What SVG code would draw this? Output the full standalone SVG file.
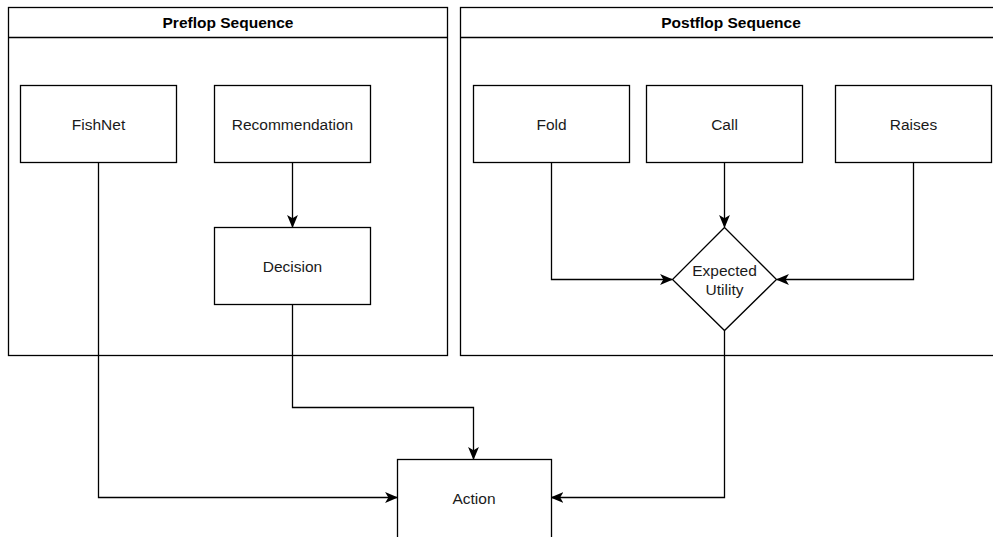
<svg xmlns="http://www.w3.org/2000/svg" width="993" height="537" viewBox="0 0 993 537">
  <style>
    .box { fill: #ffffff; stroke: #000000; stroke-width: 1.3; }
    .lbl { font-family: "Liberation Sans", Arial, sans-serif; font-size: 15.5px; fill: #1a1a1a; text-anchor: middle; dominant-baseline: central; }
    .hdr { font-family: "Liberation Sans", Arial, sans-serif; font-size: 15.5px; font-weight: bold; fill: #000000; text-anchor: middle; dominant-baseline: central; }
    .edge { fill: none; stroke: #000000; stroke-width: 1.3; marker-end: url(#arrow); }
  </style>
  <defs>
    <marker id="arrow" viewBox="0 0 12 10" refX="11" refY="5" markerWidth="13" markerHeight="11" markerUnits="userSpaceOnUse" orient="auto">
      <path d="M0,0 L12,5 L0,10 L3,5 Z" fill="#000000"/>
    </marker>
  </defs>
  <rect width="993" height="537" fill="#ffffff"/>

  <!-- swimlane containers -->
  <g id="preflop">
    <rect class="box" x="8.5" y="7.5" width="439" height="348"/>
    <line x1="8.5" y1="37.5" x2="447.5" y2="37.5" stroke="#000" stroke-width="1.3"/>
    <text class="hdr" x="228" y="22.5">Preflop Sequence</text>
  </g>
  <g id="postflop">
    <rect class="box" x="460.5" y="7.5" width="560" height="348"/>
    <line x1="460.5" y1="37.5" x2="1020" y2="37.5" stroke="#000" stroke-width="1.3"/>
    <text class="hdr" x="731" y="22.5">Postflop Sequence</text>
  </g>

  <!-- connectors -->
  <g id="connectors">
    <path class="edge" d="M98.5,162.5 V497.5 H397"/>
    <path class="edge" d="M292.5,162.5 V227"/>
    <path class="edge" d="M292.5,304.5 V407.5 H473.5 V459"/>
    <path class="edge" d="M551.5,162.5 V279.5 H672"/>
    <path class="edge" d="M724.5,162.5 V227"/>
    <path class="edge" d="M913.5,162.5 V279.5 H777"/>
    <path class="edge" d="M724.5,330.5 V497.5 H551.5"/>
  </g>

  <!-- nodes -->
  <g id="fishnet">
    <rect class="box" x="20.5" y="85.5" width="156" height="77"/>
    <text class="lbl" x="98.5" y="124">FishNet</text>
  </g>
  <g id="recommendation">
    <rect class="box" x="214.5" y="85.5" width="156" height="77"/>
    <text class="lbl" x="292.5" y="124">Recommendation</text>
  </g>
  <g id="decision">
    <rect class="box" x="214.5" y="227.5" width="156" height="77"/>
    <text class="lbl" x="292.5" y="266">Decision</text>
  </g>
  <g id="fold">
    <rect class="box" x="473.5" y="85.5" width="156" height="77"/>
    <text class="lbl" x="551.5" y="124">Fold</text>
  </g>
  <g id="call">
    <rect class="box" x="646.5" y="85.5" width="156" height="77"/>
    <text class="lbl" x="724.5" y="124">Call</text>
  </g>
  <g id="raises">
    <rect class="box" x="835.5" y="85.5" width="156" height="77"/>
    <text class="lbl" x="913.5" y="124">Raises</text>
  </g>
  <g id="expected-utility">
    <polygon class="box" points="724.5,227.5 776.5,279.5 724.5,330.5 672.5,279.5"/>
    <text class="lbl" x="724.5" y="270">Expected</text>
    <text class="lbl" x="724.5" y="289">Utility</text>
  </g>
  <g id="action">
    <rect class="box" x="397.5" y="459.5" width="154" height="80"/>
    <text class="lbl" x="474" y="498">Action</text>
  </g>
</svg>
